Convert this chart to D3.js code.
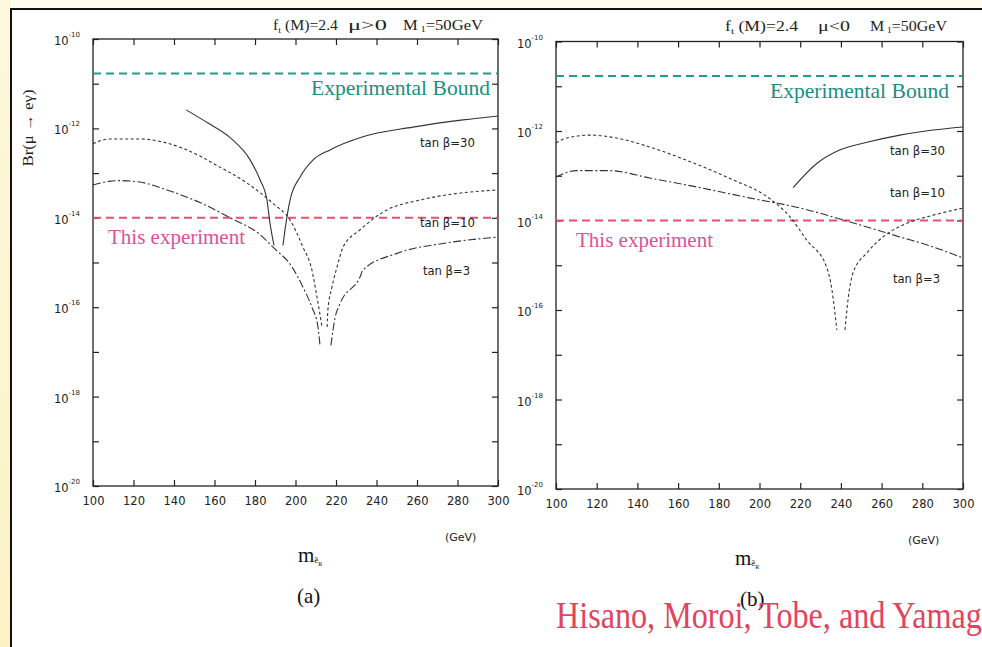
<!DOCTYPE html>
<html>
<head>
<meta charset="utf-8">
<script src="https://cdn.jsdelivr.net/npm/d3@7"></script>
<style>
  body { margin: 0; background: #fff; }
  svg { display: block; }
</style>
</head>
<body>
<svg id="chart" width="982" height="647"></svg>
<script>
// values: [selectron mass (GeV), Br(mu -> e gamma)]
let xTicks = [100, 120, 140, 160, 180, 200, 220, 240, 260, 280, 300]
let yTicks = [1e-10, 1e-11, 1e-12, 1e-13, 1e-14, 1e-15, 1e-16, 1e-17, 1e-18, 1e-19, 1e-20]
let yLabels = [-10, -12, -14, -16, -18, -20]
let expBound = 1.7e-11
let thisExp = 1e-14

// panel (a), mu > 0
let a_tan30_left = [[146, 2.6e-12], [157, 1.3e-12], [167.7, 6.2e-13], [177.5, 2.0e-13], [182.5, 7.1e-14],
                    [185.9, 2.5e-14], [187.4, 7.6e-15], [189.4, 2.4e-15]]
let a_tan30_right = [[193.8, 2.4e-15], [195.3, 7.6e-15], [197.3, 2.5e-14], [202.2, 8.1e-14], [208.6, 1.95e-13],
                     [217, 3.3e-13], [233.3, 6.5e-13], [258, 1.07e-12], [282.7, 1.55e-12], [300, 1.9e-12]]
let a_tan10_left = [[100, 4.5e-13], [104.9, 5.5e-13], [108.4, 5.8e-13], [123.2, 5.8e-13], [136.5, 4.7e-13],
                    [152.8, 2.4e-13], [159.3, 1.65e-13], [176, 6.0e-14], [188.9, 2.1e-14],
                    [197.3, 8.9e-15], [203.7, 2.2e-15], [208.1, 6.8e-16], [210.6, 1.7e-16], [213.1, 3.6e-17]]
let a_tan10_right = [[215.6, 3.6e-17], [216, 8.7e-17], [218, 2.8e-16], [220.5, 7.9e-16], [223.5, 2.2e-15],
                     [231.9, 5.4e-15], [245.2, 1.5e-14], [261.5, 2.5e-14], [279.8, 3.5e-14], [300, 4.2e-14]]
let a_tan3_left = [[100, 5.4e-14], [108.4, 6.6e-14], [113.3, 6.8e-14], [123.2, 6.3e-14], [136.5, 4.2e-14],
                   [152.8, 2.2e-14], [167.7, 1.0e-14], [182.5, 4.2e-15], [188.9, 2.2e-15], [198.3, 7.9e-16],
                   [203.7, 2.8e-16], [208.1, 1.0e-16], [211.1, 3.6e-17], [212.1, 1.4e-17]]
let a_tan3_right = [[217.5, 1.4e-17], [219.5, 5.7e-17], [222, 1.2e-16], [231.9, 4.8e-16], [233.3, 6.8e-16],
                    [250.1, 1.6e-15], [274.8, 2.75e-15], [300, 3.7e-15]]

// panel (b), mu < 0
let b_tan30 = [[216.5, 5.4e-14], [228.3, 1.9e-13], [239.6, 3.8e-13], [252.8, 5.6e-13], [269, 8.1e-13],
               [285.3, 1.05e-12], [300, 1.23e-12]]
let b_tan10_left = [[100, 5.4e-13], [105, 6.9e-13], [116.7, 8.1e-13], [126.5, 7.4e-13], [146, 4.4e-13],
                    [164.4, 2.2e-13], [187, 8.1e-14], [203.7, 3.4e-14], [215, 1.2e-14], [223.3, 3.6e-15],
                    [233, 9.1e-16], [235.6, 2.8e-16], [238, 3.6e-17]]
let b_tan10_right = [[242, 3.6e-17], [243.5, 1.7e-16], [246, 6.8e-16], [252.8, 1.9e-15], [260.7, 4.3e-15],
                     [272.5, 8.7e-15], [285, 1.3e-14], [300, 1.9e-14]]
let b_tan3 = [[100, 9.3e-14], [110, 1.3e-13], [126.5, 1.3e-13], [146, 8.9e-14], [171, 5.4e-14],
              [195, 3.2e-14], [220, 1.9e-14], [244.5, 9.3e-15], [269, 4.3e-15], [285, 2.6e-15], [300, 1.45e-15]]

let svg = d3.select("#chart")
let serif = "'Liberation Serif', 'Times New Roman', serif"
let sans = "'DejaVu Sans', sans-serif"

// page background: yellow strip at left, pale band on top, black border
let defs = svg.append("defs")
let grad = defs.append("linearGradient").attr("id", "strip").attr("x1", 0).attr("x2", 0).attr("y1", 0).attr("y2", 1)
grad.append("stop").attr("offset", "0%").attr("stop-color", "#fdf8dc")
grad.append("stop").attr("offset", "100%").attr("stop-color", "#fbf2c4")
svg.append("rect").attr("x", 0).attr("y", 0).attr("width", 982).attr("height", 647).attr("fill", "#fefcee")
svg.append("rect").attr("x", 0).attr("y", 0).attr("width", 11).attr("height", 647).attr("fill", "url(#strip)")
svg.append("rect").attr("x", 11).attr("y", 9).attr("width", 980).attr("height", 650)
    .attr("fill", "#fff").attr("stroke", "#111").attr("stroke-width", 2)

let styles = {
    tan30: null,
    tan10: "3,2.5",
    tan3: "8,2.5,2,2.5"
}

function drawPanel(p) {
    let x = d3.scaleLinear().domain([100, 300]).range([p.x0, p.x1])
    let y = d3.scaleLog().domain([1e-20, 1e-10]).range([p.y1, p.y0])
    let g = svg.append("g")

    // frame
    g.append("rect").attr("x", p.x0).attr("y", p.y0)
        .attr("width", p.x1 - p.x0).attr("height", p.y1 - p.y0)
        .attr("fill", "none").attr("stroke", "#222").attr("stroke-width", 1.3)

    // ticks (inward) on all four sides
    let bottom = g.append("g").attr("transform", `translate(0,${p.y1})`)
        .call(d3.axisBottom(x).tickValues(xTicks).tickSizeInner(-6).tickSizeOuter(0).tickPadding(11))
    bottom.select(".domain").remove()
    bottom.selectAll("text").attr("font-family", sans).attr("font-size", 11.5).attr("fill", "#222")
    bottom.selectAll("line").attr("stroke", "#222").attr("stroke-width", 1.2)

    let top = g.append("g").attr("transform", `translate(0,${p.y0})`)
        .call(d3.axisTop(x).tickValues(xTicks).tickSizeInner(-6).tickSizeOuter(0).tickFormat(""))
    top.select(".domain").remove()
    top.selectAll("line").attr("stroke", "#222").attr("stroke-width", 1.2)

    let left = g.append("g").attr("transform", `translate(${p.x0},0)`)
        .call(d3.axisLeft(y).tickValues(yTicks).tickSizeInner(-6).tickSizeOuter(0).tickFormat(""))
    left.select(".domain").remove()
    left.selectAll("line").attr("stroke", "#222").attr("stroke-width", 1.2)

    let right = g.append("g").attr("transform", `translate(${p.x1},0)`)
        .call(d3.axisRight(y).tickValues(yTicks).tickSizeInner(-6).tickSizeOuter(0).tickFormat(""))
    right.select(".domain").remove()
    right.selectAll("line").attr("stroke", "#222").attr("stroke-width", 1.2)

    // y labels 10^-n
    yLabels.forEach(e => {
        let t = g.append("text")
            .attr("x", p.x0 - 13).attr("y", y(Math.pow(10, e)) + 6)
            .attr("text-anchor", "end").attr("font-family", sans).attr("font-size", 11.5).attr("fill", "#222")
        t.append("tspan").text("10")
        t.append("tspan").attr("font-size", 7).attr("dy", -8).text("-" + (-e))
    })

    // bound lines
    g.append("line").attr("x1", p.x0).attr("x2", p.x1).attr("y1", y(expBound)).attr("y2", y(expBound))
        .attr("stroke", "#1f9e8c").attr("stroke-width", 2).attr("stroke-dasharray", "8,5")
    g.append("line").attr("x1", p.x0).attr("x2", p.x1).attr("y1", y(thisExp)).attr("y2", y(thisExp))
        .attr("stroke", "#e8506e").attr("stroke-width", 2).attr("stroke-dasharray", "8,5")

    // curves
    let line = d3.line().x(d => x(d[0])).y(d => y(d[1])).curve(d3.curveMonotoneX)
    p.curves.forEach(c => {
        g.append("path").datum(c.data)
            .attr("d", line)
            .attr("fill", "none")
            .attr("stroke", "#333")
            .attr("stroke-width", 1.1)
            .attr("stroke-dasharray", styles[c.key])
    })

    // texts
    g.append("text").attr("x", p.boundX).attr("y", y(expBound) + 22)
        .attr("font-family", serif).attr("font-size", 21).attr("fill", "#17907f")
        .attr("textLength", 179).attr("lengthAdjust", "spacingAndGlyphs")
        .text("Experimental Bound")
    g.append("text").attr("x", p.thisX).attr("y", y(thisExp) + 26)
        .attr("font-family", serif).attr("font-size", 21).attr("fill", "#d9529c")
        .attr("textLength", 137).attr("lengthAdjust", "spacingAndGlyphs")
        .text("This experiment")

    p.tanLabels.forEach(l => {
        let t = g.append("text").attr("x", l.x).attr("y", l.y)
            .attr("font-family", sans).attr("font-size", 12).attr("fill", "#222")
            .attr("textLength", l.w).attr("lengthAdjust", "spacingAndGlyphs")
        t.text("tan β=" + l.v)
    })

    // header
    let h = p.header
    let h1 = g.append("text").attr("x", h.x[0]).attr("y", h.y)
        .attr("font-family", serif).attr("font-size", 14).attr("fill", "#222")
        .attr("textLength", h.w[0]).attr("lengthAdjust", "spacingAndGlyphs")
    h1.append("tspan").text("f")
    h1.append("tspan").attr("font-size", 9).attr("dy", 3).text("t")
    h1.append("tspan").attr("dy", -3).text(" (M)=2.4")
    g.append("text").attr("x", h.x[1]).attr("y", h.y)
        .attr("font-family", serif).attr("font-size", 14).attr("fill", "#222")
        .attr("textLength", h.w[1]).attr("lengthAdjust", "spacingAndGlyphs")
        .text(h.mu)
    let h3 = g.append("text").attr("x", h.x[2]).attr("y", h.y)
        .attr("font-family", serif).attr("font-size", 14).attr("fill", "#222")
        .attr("textLength", h.w[2]).attr("lengthAdjust", "spacingAndGlyphs")
    h3.append("tspan").text("M")
    h3.append("tspan").attr("font-size", 9).attr("dy", 2).text(" 1")
    h3.append("tspan").attr("dy", -2).text("=50GeV")

    // x axis title
    let m = g.append("text").attr("x", p.mX).attr("y", p.y1 + 76)
        .attr("font-family", serif).attr("font-size", 21).attr("fill", "#111")
    m.append("tspan").text("m")
    m.append("tspan").attr("font-size", 9).attr("dy", 1).text("ẽ")
    m.append("tspan").attr("font-size", 6).attr("dy", 3).text("R")

    g.append("text").attr("x", p.gevX).attr("y", p.y1 + 55)
        .attr("font-family", sans).attr("font-size", 11).attr("fill", "#222")
        .text("(GeV)")

    g.append("text").attr("x", p.capX).attr("y", p.y1 + 117)
        .attr("font-family", serif).attr("font-size", 21).attr("fill", "#111")
        .text(p.caption)
}

drawPanel({
    x0: 93, x1: 498, y0: 39, y1: 486,
    curves: [
        {key: "tan30", data: a_tan30_left}, {key: "tan30", data: a_tan30_right},
        {key: "tan10", data: a_tan10_left}, {key: "tan10", data: a_tan10_right},
        {key: "tan3", data: a_tan3_left}, {key: "tan3", data: a_tan3_right}
    ],
    boundX: 311, thisX: 108,
    tanLabels: [{v: 30, x: 420, y: 147, w: 55}, {v: 10, x: 420, y: 227, w: 55}, {v: 3, x: 423, y: 275, w: 47}],
    header: {x: [273, 348, 403], w: [65, 39, 80], y: 30, mu: "μ>0"},
    mX: 298, gevX: 445, capX: 297, caption: "(a)"
})

drawPanel({
    x0: 556, x1: 963, y0: 41.5, y1: 489,
    curves: [
        {key: "tan30", data: b_tan30},
        {key: "tan10", data: b_tan10_left}, {key: "tan10", data: b_tan10_right},
        {key: "tan3", data: b_tan3}
    ],
    boundX: 770, thisX: 576,
    tanLabels: [{v: 30, x: 890, y: 155, w: 55}, {v: 10, x: 890, y: 197, w: 55}, {v: 3, x: 893, y: 283, w: 47}],
    header: {x: [725, 818, 870], w: [73, 32, 77], y: 31, mu: "μ<0"},
    mX: 735, gevX: 908, capX: 740, caption: "(b)"
})

// y axis title (left panel only)
svg.append("text")
    .attr("transform", "translate(33,128) rotate(-90)")
    .attr("text-anchor", "middle")
    .attr("font-family", serif).attr("font-size", 14).attr("fill", "#222")
    .attr("textLength", 77).attr("lengthAdjust", "spacingAndGlyphs")
    .text("Br(μ → eγ)")

// citation, condensed serif running off the right edge
let cite = svg.append("text")
    .attr("font-family", serif).attr("font-size", 38).attr("fill", "#e0445e")
    .text("Hisano, Moroi, Tobe, and Yamaguchi")
let len = cite.node().getSubStringLength(0, 30)
cite.attr("transform", `translate(556,628) scale(${426 / len},1)`)
</script>
</body>
</html>
